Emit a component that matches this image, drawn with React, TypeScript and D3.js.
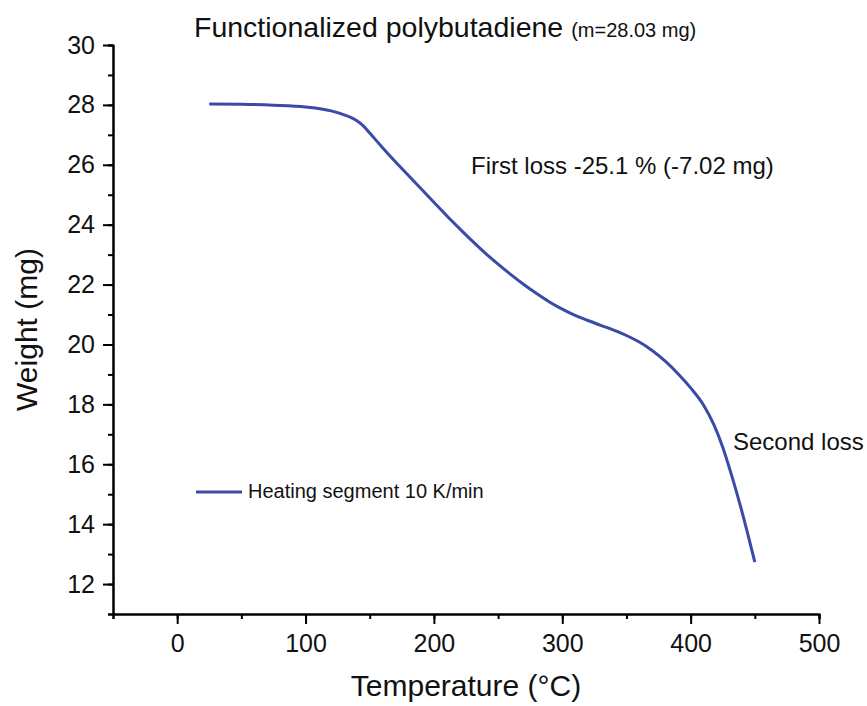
import { FC, useRef, useEffect } from 'react'
import * as d3 from 'd3'

// TGA curve (temperature in °C, weight in mg)
const temperature = [25, 50, 75, 100, 120, 130, 140, 145, 150, 160, 170, 180, 190, 200, 210, 220, 230, 240, 250, 260, 270, 280, 290, 300, 310, 320, 330, 340, 350, 360, 370, 380, 390, 400, 410, 418, 425, 432, 438, 444, 450]
const weight = [28.03, 28.02, 27.99, 27.93, 27.8, 27.67, 27.47, 27.3, 27.06, 26.57, 26.1, 25.65, 25.2, 24.75, 24.3, 23.87, 23.45, 23.05, 22.68, 22.33, 22.0, 21.7, 21.42, 21.18, 20.97, 20.8, 20.64, 20.48, 20.3, 20.08, 19.8, 19.45, 19.03, 18.55, 17.98, 17.33, 16.57, 15.62, 14.73, 13.76, 12.73]

const xTicks = [0, 100, 200, 300, 400, 500]
const yTicks = [12, 14, 16, 18, 20, 22, 24, 26, 28, 30]

const title = 'Functionalized polybutadiene'
const subtitle = '(m=28.03 mg)'
const firstLoss = 'First loss -25.1 % (-7.02 mg)'
const secondLoss = 'Second loss'
const legendLabel = 'Heating segment 10 K/min'

const FONT = 'Arial, "Liberation Sans", sans-serif'
const LINE = '#3a4aa6'

const App: FC = () => {
  const svgRef = useRef<SVGSVGElement>(null)

  useEffect(() => {
    if (!svgRef.current) return
    const svg = d3.select(svgRef.current)
    svg.selectAll('*').remove()

    const width = 867
    const height = 706
    const margin = { top: 45, right: 48, bottom: 92, left: 113 }

    svg.attr('width', width).attr('height', height)

    const x = d3.scaleLinear().domain([-50, 500]).range([margin.left, width - margin.right])
    const y = d3.scaleLinear().domain([11, 30]).range([height - margin.bottom, margin.top])

    const styleAxis = (g: d3.Selection<SVGGElement, unknown, null, undefined>) => {
      g.select('.domain').attr('stroke', '#000').attr('stroke-width', 2)
      g.selectAll('.tick line').attr('stroke', '#000').attr('stroke-width', 2)
      g.selectAll('.tick text')
        .attr('fill', '#111')
        .attr('font-family', FONT)
        .attr('font-size', '25px')
    }

    // minor ticks
    svg.append('g')
      .attr('transform', `translate(0,${y(11)})`)
      .call(d3.axisBottom(x).tickValues(d3.range(-50, 501, 50)).tickSize(5).tickFormat(() => ''))
      .call(styleAxis)
    svg.append('g')
      .attr('transform', `translate(${x(-50)},0)`)
      .call(d3.axisLeft(y).tickValues(d3.range(11, 31, 1)).tickSize(5).tickFormat(() => ''))
      .call(styleAxis)

    // major ticks
    svg.append('g')
      .attr('transform', `translate(0,${y(11)})`)
      .call(d3.axisBottom(x).tickValues(xTicks).tickSize(10).tickSizeOuter(0).tickPadding(10))
      .call(styleAxis)
    svg.append('g')
      .attr('transform', `translate(${x(-50)},0)`)
      .call(d3.axisLeft(y).tickValues(yTicks).tickSize(10).tickSizeOuter(0).tickPadding(8))
      .call(styleAxis)

    const data = temperature.map((t, i) => ({ t, w: weight[i] }))
    const line = d3.line<{ t: number; w: number }>()
      .x(d => x(d.t))
      .y(d => y(d.w))
      .curve(d3.curveMonotoneX)

    svg.append('path')
      .datum(data)
      .attr('fill', 'none')
      .attr('stroke', LINE)
      .attr('stroke-width', 3)
      .attr('stroke-linejoin', 'round')
      .attr('d', line)

    // title
    const t = svg.append('text')
      .attr('x', 194)
      .attr('y', 37)
      .attr('font-family', FONT)
      .attr('fill', '#111')
    t.append('tspan').attr('font-size', '28.5px').text(title)
    t.append('tspan').attr('font-size', '20px').attr('dx', 8).text(subtitle)

    // axis titles
    svg.append('text')
      .attr('x', (x(-50) + x(500)) / 2)
      .attr('y', 696)
      .attr('text-anchor', 'middle')
      .attr('font-family', FONT)
      .attr('font-size', '30px')
      .attr('fill', '#111')
      .text('Temperature (°C)')

    svg.append('text')
      .attr('transform', `translate(37,${(y(11) + y(30)) / 2}) rotate(-90)`)
      .attr('text-anchor', 'middle')
      .attr('font-family', FONT)
      .attr('font-size', '30px')
      .attr('fill', '#111')
      .text('Weight (mg)')

    // annotations
    svg.append('text')
      .attr('x', 471)
      .attr('y', 174)
      .attr('font-family', FONT)
      .attr('font-size', '24px')
      .attr('fill', '#111')
      .text(firstLoss)

    svg.append('text')
      .attr('x', 733)
      .attr('y', 450)
      .attr('font-family', FONT)
      .attr('font-size', '24px')
      .attr('fill', '#111')
      .text(secondLoss)

    // legend
    svg.append('line')
      .attr('x1', 196).attr('x2', 242)
      .attr('y1', 492).attr('y2', 492)
      .attr('stroke', LINE)
      .attr('stroke-width', 3)
    svg.append('text')
      .attr('x', 248)
      .attr('y', 498)
      .attr('font-family', FONT)
      .attr('font-size', '20px')
      .attr('fill', '#111')
      .text(legendLabel)
  }, [])

  return (
    <div style={{ position: 'absolute', left: 0, top: 0 }}>
      <svg ref={svgRef} style={{ display: 'block', background: '#fff' }} />
    </div>
  )
}

export default App
